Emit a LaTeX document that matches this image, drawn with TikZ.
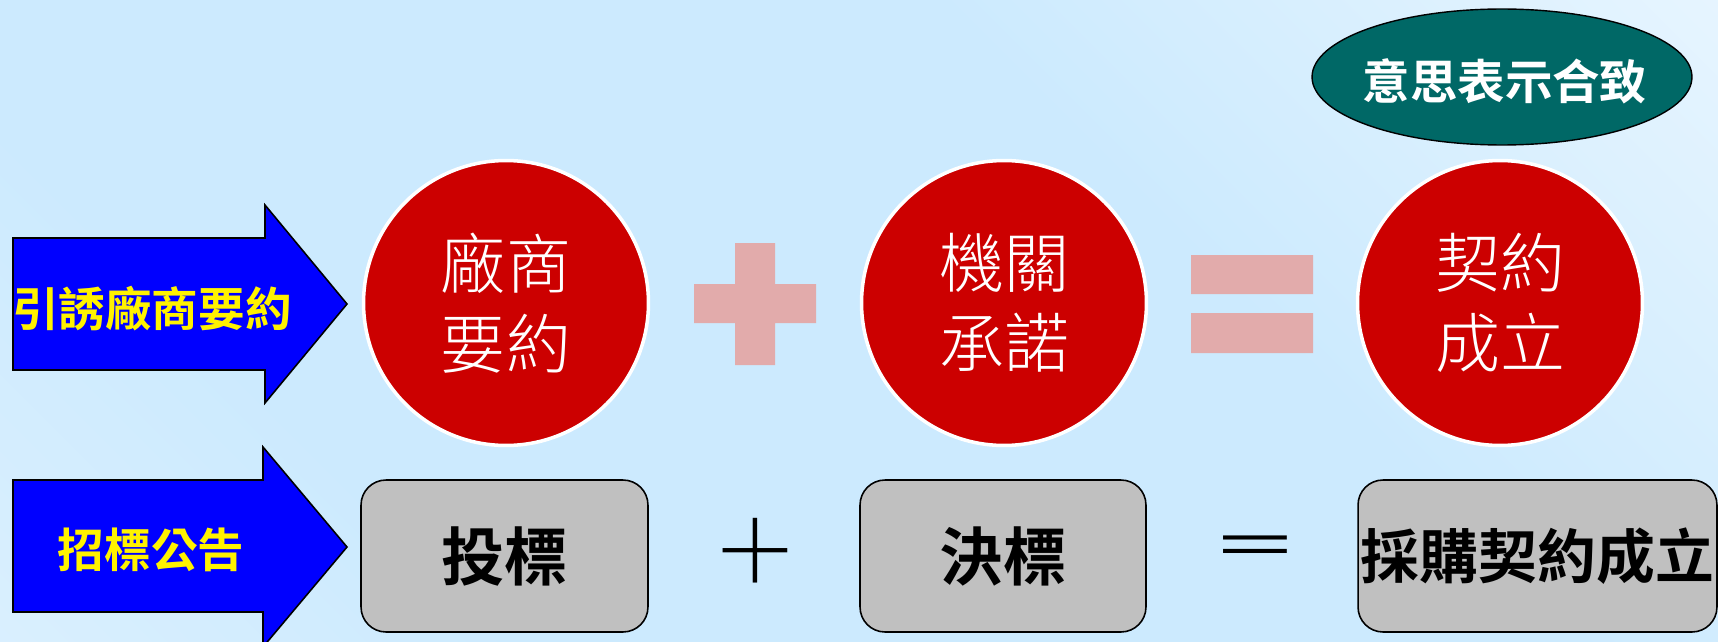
\documentclass[tikz,border=0pt]{standalone}
\usepackage{fontspec}
\newfontfamily\cjk[BoldFont={Noto Sans CJK TC Bold}]{Noto Sans CJK TC}
\newfontfamily\cjkthin{Noto Sans CJK TC Light}
\usetikzlibrary{shapes.geometric}

\definecolor{bgmid}{HTML}{CCEAFE}
\definecolor{bglow}{HTML}{E6F4FF}
\definecolor{bghigh}{HTML}{F6FBFF}
\definecolor{deepred}{HTML}{CC0000}
\definecolor{pinkop}{HTML}{E2ABAB}
\definecolor{agreeteal}{HTML}{006866}
\definecolor{boxgray}{HTML}{C0C0C0}
\pgfdeclareverticalshading{bgshade}{100bp}{color(0bp)=(bglow); color(30bp)=(bgmid); color(62bp)=(bgmid); color(100bp)=(bghigh)}

\tikzset{
  arrowbody/.style={fill=blue,draw=black,line width=.9pt,line join=miter},
  arrowtext/.style={text=yellow,font=\cjk\bfseries\fontsize{26.5pt}{30pt}\selectfont,inner sep=0pt},
  redball/.style={circle,fill=deepred,draw=white,line width=2pt,minimum size=5.7cm,inner sep=0pt,
    text=white,align=center,font=\cjkthin\fontsize{37pt}{45.5pt}\selectfont},
  bidbox/.style={draw=black,fill=boxgray,rounded corners=.5cm,line width=.9pt,minimum height=3.04cm,
    inner sep=0pt,font=\cjk\bfseries\fontsize{36pt}{40pt}\selectfont},
  agreeoval/.style={ellipse,fill=agreeteal,draw=black,line width=.8pt,minimum width=7.6cm,minimum height=2.72cm},
  agreetext/.style={text=white,font=\cjk\bfseries\fontsize{27pt}{30pt}\selectfont,inner sep=0pt},
  opsign/.style={inner sep=0pt,font=\cjkthin\fontsize{50pt}{50pt}\selectfont}
}

\begin{document}
\begin{tikzpicture}[x=.02cm,y=-.02cm]
  % background
  \useasboundingbox (0,0) rectangle (1718,642);
  \shade[shading=bgshade,shading angle=-45] (0,0) rectangle (1718,642);
  % arrows on the left
  \draw[arrowbody] (13,238) -- (265,238) -- (265,205) -- (347,304) -- (265,403) -- (265,370) -- (13,370) -- cycle;
  \draw[arrowbody] (13,480) -- (263,480) -- (263,447) -- (347,547) -- (263,647) -- (263,612) -- (13,612) -- cycle;
  \node[arrowtext] (invite) at (152,309) {引誘廠商要約};
  \node[arrowtext] (notice) at (151,550) {招標公告};
  % upper row: offer + acceptance = contract
  \node[redball] (offer) at (506,303) {廠商\\要約};
  \node[redball] (accept) at (1004,303) {機關\\承諾};
  \node[redball] (contract) at (1500,303) {契約\\成立};
  \fill[pinkop] (694,284) rectangle (816,323) (735,243) rectangle (775,365);
  \fill[pinkop] (1191,255) rectangle (1313,294) (1191,313) rectangle (1313,353);
  % oval above the contract
  \node[agreeoval] (agree) at (1502,77) {};
  \node[agreetext] (agreelabel) at (1505,81) {意思表示合致};
  % lower row: bid + award = procurement contract
  \node[bidbox,minimum width=5.74cm] (bid) at (504.5,556) {\raisebox{-.14cm}{投標}};
  \node[bidbox,minimum width=5.72cm] (award) at (1003,556) {\raisebox{-.14cm}{決標}};
  \node[bidbox,minimum width=7.18cm,font=\cjk\bfseries\fontsize{33.5pt}{40pt}\selectfont] (deal) at (1537.5,556) {\raisebox{-.12cm}{採購契約成立}};
  \node[opsign] (plusop) at (755,551) {＋};
  \node[opsign,yscale=.68,font=\cjk\fontsize{50pt}{50pt}\selectfont] (eqop) at (1255,552) {＝};
\end{tikzpicture}
\end{document}
